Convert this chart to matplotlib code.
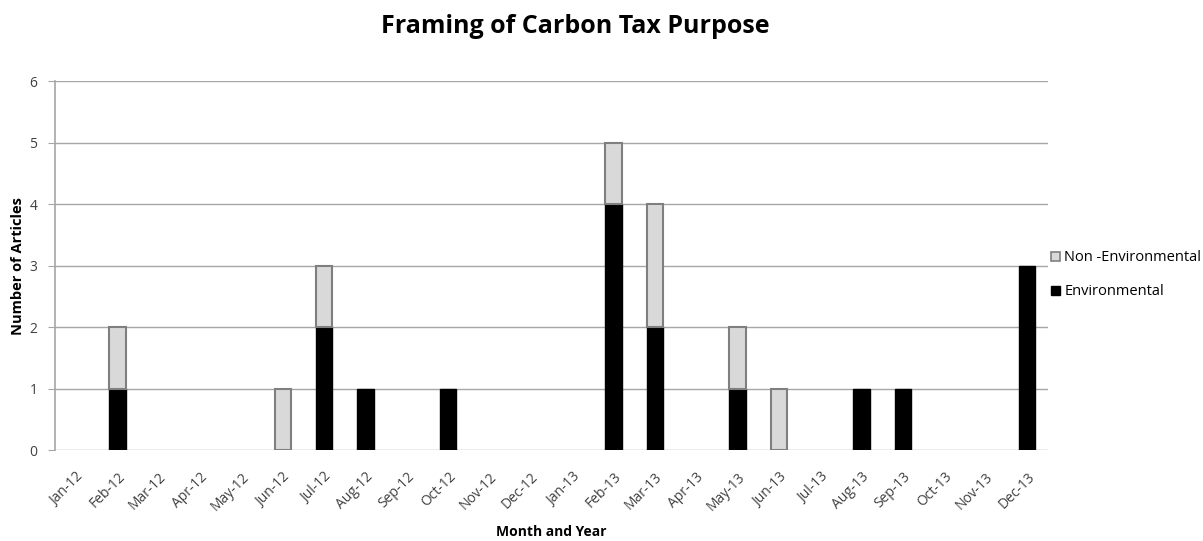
import numpy as np
import matplotlib.pyplot as plt
from matplotlib.patches import Patch

months = ['Jan-12', 'Feb-12', 'Mar-12', 'Apr-12', 'May-12', 'Jun-12', 'Jul-12', 'Aug-12',
          'Sep-12', 'Oct-12', 'Nov-12', 'Dec-12', 'Jan-13', 'Feb-13', 'Mar-13', 'Apr-13',
          'May-13', 'Jun-13', 'Jul-13', 'Aug-13', 'Sep-13', 'Oct-13', 'Nov-13', 'Dec-13']
environmental = [0, 1, 0, 0, 0, 0, 2, 1, 0, 1, 0, 0, 0, 4, 2, 0, 1, 0, 0, 1, 1, 0, 0, 3]
non_environmental = [0, 1, 0, 0, 0, 1, 1, 0, 0, 0, 0, 0, 0, 1, 2, 0, 1, 1, 0, 0, 0, 0, 0, 0]

plt.rcParams['font.family'] = ['Open Sans', 'DejaVu Sans']

fig = plt.figure(figsize=(12.03, 5.41), dpi=100)
ax = fig.add_axes([0.046, 0.168, 0.825, 0.682])

x = np.arange(len(months))
w = 0.4
# no outline on empty months so zero-height bars stay invisible
lw_env = [1 if v > 0 else 0 for v in environmental]
lw_non = [1.5 if v > 0 else 0 for v in non_environmental]
ax.bar(x, environmental, w, color='black', edgecolor='black', linewidth=lw_env, zorder=3)
ax.bar(x, non_environmental, w, bottom=environmental, color='#d9d9d9',
       edgecolor='#7f7f7f', linewidth=lw_non, zorder=3)

ax.set_xlim(-0.5, len(months) - 0.5)
ax.set_ylim(0, 6)
ax.set_yticks(range(7))
ax.yaxis.grid(True, color='#a6a6a6', linewidth=1, zorder=0)
ax.set_xticks(x)
ax.set_xticklabels(months, rotation=45, ha='right', rotation_mode='anchor',
                   fontsize=10, color='#404040')
ax.tick_params(axis='x', length=0, pad=14)
ax.tick_params(axis='y', length=5, color='#a6a6a6', labelsize=10, labelcolor='#404040', pad=8)

for s in ['top', 'right', 'bottom']:
    ax.spines[s].set_visible(False)
ax.spines['left'].set_color('#a6a6a6')
ax.spines['left'].set_linewidth(1.2)

ax.set_xlabel('Month and Year', fontsize=10, fontweight='bold', labelpad=8)
ax.set_ylabel('Number of Articles', fontsize=10.5, fontweight='bold', labelpad=3)
fig.suptitle('Framing of Carbon Tax Purpose', fontsize=18, fontweight='bold',
             x=0.478, y=0.975)

handles = [Patch(facecolor='#d9d9d9', edgecolor='#7f7f7f', linewidth=1.2),
           Patch(facecolor='black', edgecolor='black', linewidth=1)]
ax.legend(handles, ['Non -Environmental', 'Environmental'], loc='center left',
          bbox_to_anchor=(0.99, 0.475), frameon=False, fontsize=10.5,
          handlelength=0.6, handleheight=0.6, handletextpad=0.3, labelspacing=1.3)

fig.savefig('out.png', dpi=100)
